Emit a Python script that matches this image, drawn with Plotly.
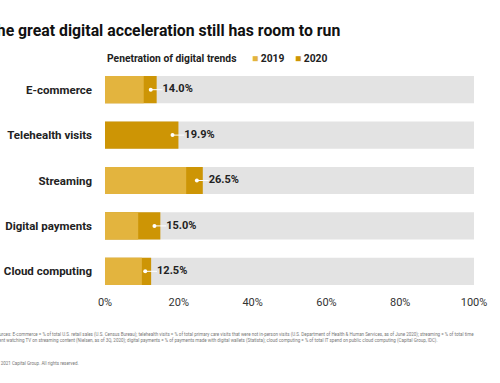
import plotly.graph_objects as go

categories = ["E-commerce", "Telehealth visits", "Streaming", "Digital payments", "Cloud computing"]
values_2019 = [10.5, 0.0, 22.0, 9.0, 10.0]
values_2020 = [14.0, 19.9, 26.5, 15.0, 12.5]
value_labels = ["14.0%", "19.9%", "26.5%", "15.0%", "12.5%"]
x_ticks = [0, 20, 40, 60, 80, 100]
x_tick_labels = ["0%", "20%", "40%", "60%", "80%", "100%"]
full_scale = [100] * len(categories)

LIGHT = "#E3B43E"
DARK = "#CD9505"
GRAY = "#E3E3E3"
FONT = "Roboto"

fig = go.Figure()
fig.add_trace(go.Bar(y=categories, x=full_scale, orientation="h", marker=dict(color=GRAY, line=dict(width=0)),
                     width=0.6, showlegend=False, hoverinfo="skip"))
fig.add_trace(go.Bar(y=categories, x=values_2020, orientation="h", marker=dict(color=DARK, line=dict(width=0)),
                     width=0.6, name="2020", showlegend=False))
fig.add_trace(go.Bar(y=categories, x=values_2019, orientation="h", marker=dict(color=LIGHT, line=dict(width=0)),
                     width=0.6, name="2019", showlegend=False))

# leader line from dot to label
lx, ly = [], []
for c, v in zip(categories, values_2020):
    lx += [v - 1.6, v + 1.6, None]
    ly += [c, c, None]
fig.add_trace(go.Scatter(x=lx, y=ly, mode="lines", line=dict(color="white", width=1),
                         showlegend=False, hoverinfo="skip"))
fig.add_trace(go.Scatter(x=[v - 1.6 for v in values_2020], y=categories, mode="markers",
                         marker=dict(color="white", size=4), showlegend=False, hoverinfo="skip"))
fig.add_trace(go.Scatter(x=[v + 1.6 for v in values_2020], y=categories, mode="text",
                         text=value_labels, textposition="middle right",
                         textfont=dict(family=FONT, size=11, color="#222", weight="bold"),
                         showlegend=False, hoverinfo="skip"))

fig.update_layout(
    width=500, height=383,
    margin=dict(l=105, r=26, t=67, b=89),
    paper_bgcolor="white", plot_bgcolor="white",
    barmode="overlay",
    xaxis=dict(range=[0, 100], tickvals=x_ticks, ticktext=x_tick_labels, showgrid=False, zeroline=False,
               showline=False, ticks="", automargin=False,
               tickfont=dict(family=FONT, size=11, color="#333"), fixedrange=True),
    yaxis=dict(categoryorder="array", categoryarray=categories, autorange="reversed",
               showgrid=False, zeroline=False, showline=False, ticks="", ticklabelstandoff=12, automargin=False,
               tickfont=dict(family=FONT, size=11.5, color="#222", weight="bold")),
    showlegend=False,
)

pw = 500 - 105 - 26
ph = 383 - 67 - 89
def px_x(p):
    return (p - 105) / pw
def px_y(p):
    return (383 - 89 - p) / ph

ann = [
    dict(text="<b>The great digital acceleration still has room to run</b>", x=px_x(-15), y=px_y(30),
         xanchor="left", yanchor="middle", font=dict(family=FONT, size=15.8, color="#111")),
    dict(text="<b>Penetration of digital trends</b>", x=px_x(105), y=px_y(59),
         xanchor="left", yanchor="middle", font=dict(family=FONT, size=10.3, color="#222")),
    dict(text=f"<span style='color:{LIGHT}'>■</span> <b>2019</b>", x=px_x(250), y=px_y(59),
         xanchor="left", yanchor="middle", font=dict(family=FONT, size=10.3, color="#222")),
    dict(text=f"<span style='color:{DARK}'>■</span> <b>2020</b>", x=px_x(293), y=px_y(59),
         xanchor="left", yanchor="middle", font=dict(family=FONT, size=10.3, color="#222")),
    dict(text="Sources: E-commerce = % of total U.S. retail sales (U.S. Census Bureau); telehealth visits = % of total primary care visits that were not in-person visits (U.S. Department of Health &amp; Human Services, as of June 2020); streaming = % of total time<br>spent watching TV on streaming content (Nielsen, as of 3Q, 2020); digital payments = % of payments made with digital wallets (Statista); cloud computing = % of total IT spend on public cloud computing (Capital Group, IDC).",
         x=px_x(-8), y=px_y(329), xanchor="left", yanchor="top", align="left",
         font=dict(family=FONT, size=4.5, color="#777")),
    dict(text="© 2021 Capital Group. All rights reserved.", x=px_x(-6), y=px_y(363),
         xanchor="left", yanchor="middle", align="left", font=dict(family=FONT, size=4.5, color="#777")),
]
for a in ann:
    a.update(xref="paper", yref="paper", showarrow=False)
fig.update_layout(annotations=ann)

fig.write_html("out.html", config={"displayModeBar": False},
               post_script="document.body.style.margin='0';document.body.style.overflow='hidden';")
